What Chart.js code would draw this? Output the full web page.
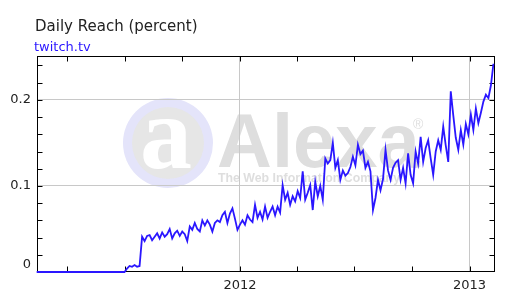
<!DOCTYPE html>
<html>
<head>
<meta charset="utf-8">
<title>twitch.tv daily reach</title>
<script src="https://cdn.jsdelivr.net/npm/chart.js@4.4.1/dist/chart.umd.min.js"></script>
<style>
  html, body { margin: 0; padding: 0; background: #fff; }
</style>
</head>
<body>
<canvas id="reach" width="512" height="307"></canvas>
<script>
const chartTitle = "Daily Reach (percent)";
const siteName = "twitch.tv";

// x is days counted from 2011-01-01, one sample every 4 days
const firstDay = 41;
const stepDays = 4;
const reach = [
  0, 0, 0, 0, 0, 0, 0, 0, 0, 0,
  0, 0, 0, 0, 0, 0, 0, 0, 0, 0,
  0, 0, 0, 0, 0, 0, 0, 0, 0, 0,
  0, 0, 0, 0, 0, 0, 0.004, 0.007, 0.006, 0.008,
  0.006, 0.007, 0.041, 0.036, 0.042, 0.043, 0.037, 0.041, 0.045, 0.039,
  0.046, 0.041, 0.044, 0.050, 0.039, 0.045, 0.048, 0.042, 0.047, 0.044,
  0.036, 0.053, 0.049, 0.057, 0.050, 0.047, 0.060, 0.054, 0.060, 0.055,
  0.047, 0.057, 0.060, 0.058, 0.066, 0.070, 0.057, 0.068, 0.074, 0.062,
  0.049, 0.055, 0.060, 0.055, 0.066, 0.061, 0.058, 0.078, 0.063, 0.070,
  0.061, 0.076, 0.063, 0.070, 0.076, 0.066, 0.076, 0.069, 0.101, 0.084,
  0.092, 0.078, 0.088, 0.082, 0.094, 0.086, 0.117, 0.084, 0.092, 0.101,
  0.072, 0.105, 0.088, 0.100, 0.084, 0.132, 0.126, 0.130, 0.150, 0.121,
  0.130, 0.107, 0.118, 0.112, 0.115, 0.122, 0.134, 0.124, 0.148, 0.137,
  0.141, 0.121, 0.128, 0.117, 0.072, 0.086, 0.107, 0.095, 0.108, 0.142,
  0.118, 0.107, 0.121, 0.127, 0.130, 0.107, 0.121, 0.103, 0.138, 0.113,
  0.103, 0.140, 0.126, 0.157, 0.128, 0.144, 0.153, 0.132, 0.113, 0.140,
  0.153, 0.142, 0.169, 0.147, 0.128, 0.210, 0.182, 0.156, 0.142, 0.165,
  0.148, 0.172, 0.160, 0.183, 0.165, 0.190, 0.173, 0.185, 0.198, 0.206,
  0.202, 0.217, 0.242
];

const xRange = [41.5, 771.5];
const yRange = [0, 0.251];
const quarterDays = [90, 181, 273, 365, 456, 547, 639, 731];
const yearLabels = { 365: "2012", 731: "2013" };
const yLabelTicks = [0, 0.1, 0.2];
const yMinorTicks = [0.02, 0.04, 0.06, 0.08, 0.1, 0.12, 0.14, 0.16, 0.18, 0.2, 0.22, 0.24];

const lineBlue = "#2a16ff";
const gridGray = "#c8c8c8";
const textDark = "#222";

const points = reach.map((v, i) => ({ x: firstDay + i * stepDays, y: v }));

// faint Alexa watermark behind everything
const watermark = {
  id: "watermark",
  beforeDraw(chart) {
    const { ctx, chartArea: a } = chart;
    const cx = a.left + 131, cy = a.top + 87;
    ctx.save();
    ctx.fillStyle = "#e4e4fa";
    ctx.beginPath(); ctx.arc(cx, cy, 45, 0, Math.PI * 2); ctx.fill();
    ctx.fillStyle = "#e6e6e6";
    ctx.beginPath(); ctx.arc(cx, cy, 36, 0, Math.PI * 2); ctx.fill();
    ctx.fillStyle = "#fff";
    ctx.textAlign = "center";
    ctx.textBaseline = "alphabetic";
    ctx.font = "bold 104px 'Liberation Serif'";
    ctx.fillText("a", cx - 2, cy + 25);
    ctx.fillStyle = "#dedede";
    ctx.textAlign = "left";
    ctx.font = "bold 76px 'Liberation Sans'";
    ctx.fillText("Alexa", a.left + 180, a.top + 111);
    ctx.font = "bold 13px 'Liberation Sans'";
    ctx.fillText("The Web Information Company", a.left + 181, a.top + 126, 182);
    ctx.font = "14px 'Liberation Sans'";
    ctx.fillText("\u00AE", a.left + 376, a.top + 73);
    ctx.restore();
  }
};

// frame with inward tick marks on all four sides
const frame = {
  id: "frame",
  beforeDatasetsDraw(chart) {
    const { ctx, chartArea: a, scales } = chart;
    const L = Math.round(a.left) + 0.5, R = Math.round(a.right) - 0.5;
    const T = Math.round(a.top) + 0.5, B = Math.round(a.bottom) - 0.5;
    ctx.save();
    ctx.strokeStyle = "#000";
    ctx.lineWidth = 1;
    ctx.strokeRect(L, T, R - L, B - T);
    ctx.beginPath();
    yMinorTicks.forEach(v => {
      const y = Math.round(scales.y.getPixelForValue(v)) + 0.5;
      ctx.moveTo(L, y); ctx.lineTo(L + 5, y);
      ctx.moveTo(R, y); ctx.lineTo(R - 5, y);
    });
    quarterDays.forEach(d => {
      const x = Math.round(scales.x.getPixelForValue(d)) + 0.5;
      ctx.moveTo(x, T); ctx.lineTo(x, T + 5);
      ctx.moveTo(x, B); ctx.lineTo(x, B - 5);
    });
    ctx.stroke();
    ctx.restore();
  },
  afterDraw(chart) {
    const ctx = chart.ctx;
    ctx.save();
    ctx.textAlign = "left";
    ctx.textBaseline = "alphabetic";
    ctx.fillStyle = textDark;
    ctx.font = "15px 'DejaVu Sans'";
    ctx.fillText(chartTitle, 35, 31);
    ctx.fillStyle = lineBlue;
    ctx.font = "13px 'DejaVu Sans'";
    ctx.fillText(siteName, 34, 51);
    ctx.restore();
  }
};

new Chart("reach", {
  type: "line",
  data: {
    datasets: [{
      data: points,
      borderColor: lineBlue,
      borderWidth: 1.8,
      pointRadius: 0,
      tension: 0,
      clip: false
    }]
  },
  options: {
    responsive: false,
    animation: false,
    events: [],
    layout: { padding: { top: 56, right: 17, left: 0, bottom: 0 } },
    plugins: { legend: { display: false }, tooltip: { enabled: false } },
    scales: {
      x: {
        type: "linear",
        min: xRange[0],
        max: xRange[1],
        afterBuildTicks: s => { s.ticks = quarterDays.map(v => ({ value: v })); },
        afterFit: s => { s.height = 35; },
        ticks: {
          autoSkip: false,
          maxRotation: 0,
          padding: 6,
          color: textDark,
          font: { family: "DejaVu Sans", size: 13 },
          callback: v => yearLabels[v] || ""
        },
        grid: {
          drawTicks: false,
          lineWidth: 1,
          color: c => (c.tick && yearLabels[c.tick.value]) ? gridGray : "rgba(0,0,0,0)"
        },
        border: { display: false }
      },
      y: {
        min: yRange[0],
        max: yRange[1],
        afterBuildTicks: s => { s.ticks = yLabelTicks.map(v => ({ value: v })); },
        afterFit: s => { s.width = 37; },
        ticks: {
          padding: 6,
          color: textDark,
          font: { family: "DejaVu Sans", size: 13 },
          callback: v => v === 0 ? ["0", ""] : String(v)
        },
        grid: {
          drawTicks: false,
          lineWidth: 1,
          color: c => (c.tick && c.tick.value > 0) ? gridGray : "rgba(0,0,0,0)"
        },
        border: { display: false }
      }
    }
  },
  plugins: [watermark, frame]
});
</script>
</body>
</html>
